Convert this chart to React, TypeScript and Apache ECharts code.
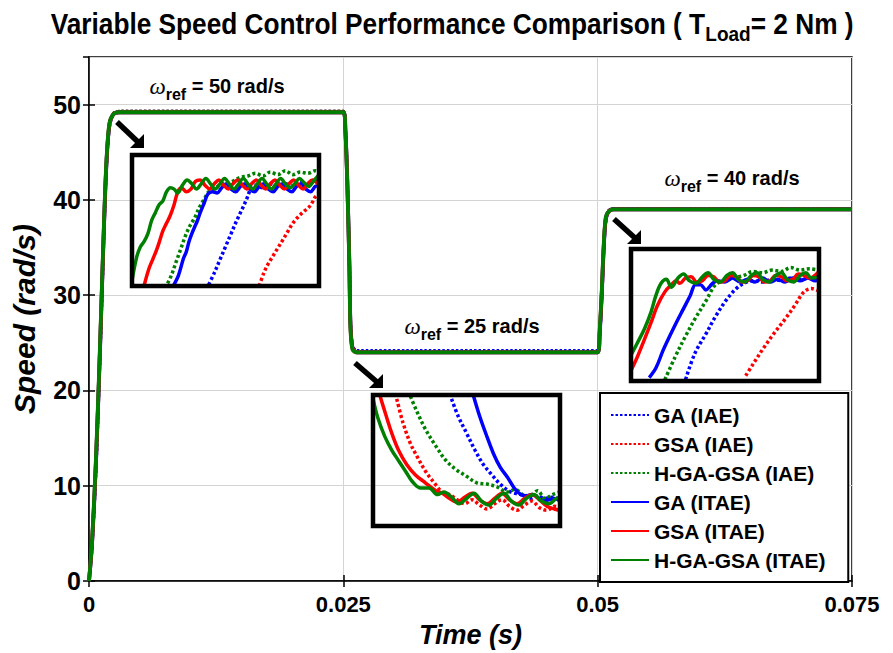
import React, { useEffect, useRef } from "react";
import * as echarts from "echarts";

// ---------- Main chart data (time [s], speed [rad/s]) ----------
const seriesNames = ["GA (IAE)", "GSA (IAE)", "H-GA-GSA (IAE)", "GA (ITAE)", "GSA (ITAE)", "H-GA-GSA (ITAE)"];
const seriesColors = ["#0000FF", "#FF0000", "#008000", "#0000FF", "#FF0000", "#008000"];
const xTicks = [0, 0.025, 0.05, 0.075];
const yTicks = [0, 10, 20, 30, 40, 50];

const mainGA_IAE = [[0, 0], [0.0003, 3.6], [0.0007, 12], [0.0011, 24], [0.0014, 34], [0.0017, 43], [0.002, 47.5], [0.0024, 49], [0.003, 49.3], [0.025, 49.3], [0.0252, 47.6], [0.0254, 42], [0.0256, 33.5], [0.0257, 27.5], [0.0259, 24.8], [0.0263, 24.2], [0.05, 24.2], [0.0502, 25.6], [0.0504, 29.5], [0.0506, 34.5], [0.0508, 37.7], [0.0511, 38.9], [0.0516, 39.1], [0.075, 39.1]];
const mainGSA_IAE = [[0, 0], [0.0003, 3.8], [0.0007, 12.5], [0.0011, 24.5], [0.0014, 34.5], [0.0017, 43.2], [0.002, 47.6], [0.0024, 49], [0.003, 49.3], [0.025, 49.3], [0.0252, 47.5], [0.0254, 41.8], [0.0256, 33.2], [0.0257, 27.2], [0.0259, 24.7], [0.0263, 24.1], [0.05, 24.1], [0.0502, 25.8], [0.0504, 29.8], [0.0506, 34.8], [0.0508, 37.8], [0.0511, 38.9], [0.0516, 39.1], [0.075, 39.1]];
const mainHGG_IAE = [[0, 0], [0.0003, 3.9], [0.0007, 12.8], [0.0011, 24.8], [0.0014, 34.8], [0.0017, 43.4], [0.002, 47.7], [0.0024, 49.1], [0.003, 49.3], [0.025, 49.3], [0.0252, 47.4], [0.0254, 41.6], [0.0256, 33], [0.0257, 27], [0.0259, 24.6], [0.0263, 24.1], [0.05, 24.1], [0.0502, 26], [0.0504, 30], [0.0506, 35], [0.0508, 38], [0.0511, 38.9], [0.0516, 39.1], [0.075, 39.1]];
const mainGA_ITAE = [[0, 0], [0.0003, 3.9], [0.0007, 12.8], [0.0011, 24.8], [0.0014, 34.9], [0.0017, 43.5], [0.002, 47.8], [0.0024, 49], [0.003, 49.2], [0.025, 49.2], [0.0252, 47.4], [0.0254, 41.6], [0.0256, 33], [0.0257, 27], [0.0259, 24.5], [0.0263, 24], [0.05, 24], [0.0502, 26], [0.0504, 30], [0.0506, 35], [0.0508, 38], [0.0511, 38.8], [0.0516, 39], [0.075, 39]];
const mainGSA_ITAE = [[0, 0], [0.0003, 4], [0.0007, 13], [0.0011, 25], [0.0014, 35], [0.0017, 43.6], [0.002, 47.9], [0.0024, 49], [0.003, 49.2], [0.025, 49.2], [0.0252, 47.3], [0.0254, 41.5], [0.0256, 32.8], [0.0257, 26.8], [0.0259, 24.4], [0.0263, 24], [0.05, 24], [0.0502, 26.2], [0.0504, 30.2], [0.0506, 35.2], [0.0508, 38.1], [0.0511, 38.8], [0.0516, 39], [0.075, 39]];
const mainHGG_ITAE = [[0, 0], [0.0003, 4.2], [0.0007, 13.3], [0.0011, 25.3], [0.0014, 35.3], [0.0017, 43.8], [0.002, 48], [0.0024, 49], [0.003, 49.2], [0.025, 49.2], [0.0252, 47.2], [0.0254, 41.3], [0.0256, 32.6], [0.0257, 26.6], [0.0259, 24.3], [0.0263, 24], [0.05, 24], [0.0502, 26.4], [0.0504, 30.4], [0.0506, 35.4], [0.0508, 38.2], [0.0511, 38.8], [0.0516, 39], [0.075, 39]];

// ---------- Inset 1 (zoom of first rise, local units 0..100) ----------
const in1GA_IAE = [[41, 1], [44, 10], [47, 20], [50, 30], [53, 40], [56, 50], [59, 59], [61.5, 67], [63.5, 74], [66, 77], [70, 75], [74, 78], [78, 76], [82, 78], [86, 76], [90, 79], [94, 77], [98, 80], [100, 79]];
const in1GSA_IAE = [[68, 0], [70.5, 10], [72.5, 16], [75, 22], [78, 29], [81, 36], [83.5, 42], [86, 48], [89, 53], [92, 57], [94.5, 60], [96.5, 64], [98, 68], [100, 71]];
const in1HGG_IAE = [[19, 2], [21, 8], [23.5, 18], [26, 28], [28.5, 38], [31, 46], [33.5, 52], [36, 60], [38.5, 66], [41, 72], [44, 74], [47, 77], [50, 78], [54, 80], [58, 83], [62, 84], [66, 86], [70, 84], [74, 87], [78, 85], [82, 88], [86, 85], [90, 87], [94, 86], [98, 88], [100, 87]];
const in1GA_ITAE = [[22, 0], [24.8, 8], [27.5, 21], [29, 26], [30.5, 34], [32, 40], [33.5, 45], [35, 50], [36.5, 56], [38.5, 63], [40.5, 70], [43, 72], [45.5, 71], [48, 75], [50.5, 78], [53, 74], [55.5, 72], [58, 76], [60.5, 78], [63, 74], [65.5, 72], [68, 76], [70.5, 78], [73, 74], [75.5, 72], [78, 76], [80.5, 78], [83, 74], [85.5, 72], [88, 76], [90.5, 78], [93, 74], [95.5, 72], [98, 76], [100, 77]];
const in1GSA_ITAE = [[6.4, 0], [9, 13], [11, 20], [13, 27], [14.7, 34], [16.5, 42], [18.5, 48], [20.5, 54], [22.5, 62], [24.5, 72], [26.5, 75], [29, 72], [31.5, 74], [34, 80], [36.5, 81], [39, 77], [41.5, 74], [44, 78], [46.5, 81], [49, 77], [51.5, 74], [54, 78], [56.5, 81], [59, 77], [61.5, 74], [64, 78], [66.5, 81], [69, 77], [71.5, 74], [74, 78], [76.5, 81], [79, 77], [81.5, 74], [84, 78], [86.5, 81], [89, 77], [91.5, 74], [94, 78], [96.5, 81], [100, 77]];
const in1HGG_ITAE = [[0, 4], [2.5, 22], [4.5, 30], [6.5, 34], [8.5, 40], [10.5, 50], [12.5, 56], [14.5, 62], [16.5, 65], [18.5, 72], [20.5, 75], [22.5, 74], [24.5, 71], [27, 77], [29.5, 81], [32, 78], [34.5, 74], [37, 78], [39.5, 82], [42, 78], [44.5, 74], [47, 78], [49.5, 82], [52, 78], [54.5, 74], [57, 78], [59.5, 82], [62, 78], [64.5, 74], [67, 78], [69.5, 82], [72, 78], [74.5, 74], [77, 78], [79.5, 82], [82, 78], [84.5, 75], [87, 78], [89.5, 82], [92, 79], [94.5, 76], [97, 80], [100, 85]];

// ---------- Inset 2 (zoom of the fall) ----------
const in2GA_IAE = [[42, 97], [45.5, 84], [50, 71], [54.5, 58], [59, 47], [63.6, 39], [68, 32], [73.6, 26], [79, 24], [84, 21], [88, 23], [92, 21], [96, 22], [100, 20]];
const in2GSA_IAE = [[12.7, 97], [16, 79], [20, 63], [23.6, 53], [28, 42], [32.7, 33], [37, 26], [41, 24], [45, 20], [49, 17], [53, 20], [57, 16], [61, 13], [65, 17], [69, 20], [73, 15], [77, 12], [81, 16], [85, 19], [89, 14], [93, 12], [97, 15], [100, 14]];
const in2HGG_IAE = [[20, 99], [23.6, 87], [28, 74], [33.6, 61], [39, 50], [44.5, 43], [50, 38], [55.5, 33], [61, 32], [66, 30], [72, 26], [76, 28], [80, 24], [84, 23], [88, 27], [92, 21], [96, 24], [100, 26]];
const in2GA_ITAE = [[53.6, 100], [57, 84], [61, 68], [64.5, 55], [68, 45], [72, 37], [75.5, 29], [79, 24], [82, 23], [85, 24], [88, 22], [91, 19], [94, 20], [97, 21], [100, 19]];
const in2GSA_ITAE = [[3.6, 100], [6.4, 87], [10, 71], [13.6, 58], [18, 47], [22.7, 39], [28, 33], [33.6, 27], [37, 25], [41, 21], [45, 18], [49, 22], [53, 25], [57, 20], [61, 17], [65, 21], [69, 25], [73, 20], [77, 17], [81, 21], [85, 24], [89, 20], [93, 15], [97, 13], [100, 12]];
const in2HGG_ITAE = [[0, 97], [2.7, 82], [6.4, 68], [10, 58], [13.6, 50], [17.3, 42], [21, 34], [25.5, 29], [30, 29], [34.5, 24], [38, 26], [42, 22], [46, 17], [50, 21], [54, 25], [58, 19], [62, 16], [66, 21], [70, 25], [74, 19], [78, 16], [82, 21], [86, 24], [90, 19], [94, 17], [98, 21], [100, 22]];

// ---------- Inset 3 (zoom of the second rise) ----------
const in3GA_IAE = [[29, 1], [34, 21], [40, 36], [45, 49], [51, 62], [56, 70], [60, 74], [65, 76], [70, 75], [75, 77], [80, 76], [85, 78], [90, 77], [95, 78], [100, 77]];
const in3GSA_IAE = [[61, 4], [65, 13], [71, 26], [76, 36], [82, 47], [87, 57], [92, 67.5], [96, 70], [100, 68]];
const in3HGG_IAE = [[18, 1], [23.4, 18], [29, 34], [34, 47], [40, 61], [45, 73], [50, 76], [55, 78], [60, 80], [65, 83], [70, 82], [75, 84], [80, 83], [85, 86], [90, 84], [95, 85], [100, 84]];
const in3GA_ITAE = [[9.7, 2.6], [13.3, 10], [17, 23], [20.6, 34], [24, 44], [28, 55], [31.6, 65], [34.3, 73], [37, 73], [39.8, 69], [43.4, 74], [46, 76], [50, 75], [54, 78], [58, 75], [62, 77], [66, 75], [70, 78], [74, 75], [78, 77], [82, 75], [86, 78], [90, 76], [94, 78], [98, 76], [100, 77]];
const in3GSA_ITAE = [[0, 8], [3.3, 18], [7, 31], [10.6, 44], [14, 57], [18, 67.5], [21.5, 73], [24, 76], [26, 74], [29, 78], [32, 79], [35, 75], [38, 76], [41, 80], [44, 79], [47, 75], [50, 76], [53, 80], [56, 79], [59, 75], [62, 76], [65, 80], [68, 79], [71, 75], [74, 76], [77, 80], [80, 79], [83, 76], [86, 77], [89, 81], [92, 80], [95, 78], [100, 83]];
const in3HGG_ITAE = [[0, 19.5], [3.3, 28.6], [7, 39], [10.6, 52], [13.3, 65], [16, 74], [18.8, 77], [21.5, 71], [25, 78], [28, 81], [31, 76], [34.5, 74], [38, 79], [41, 82], [44, 77], [47.5, 75], [51, 80], [54, 82], [57, 77], [60.5, 75], [64, 80], [67, 82], [70, 77], [73.5, 75], [77, 80], [80, 82], [83, 77], [86.5, 75], [90, 80], [93, 82], [96, 78], [100, 79]];

const mainData = [mainGA_IAE, mainGSA_IAE, mainHGG_IAE, mainGA_ITAE, mainGSA_ITAE, mainHGG_ITAE];
const inset1Data = [in1GA_IAE, in1GSA_IAE, in1HGG_IAE, in1GA_ITAE, in1GSA_ITAE, in1HGG_ITAE];
const inset2Data = [in2GA_IAE, in2GSA_IAE, in2HGG_IAE, in2GA_ITAE, in2GSA_ITAE, in2HGG_ITAE];
const inset3Data = [in3GA_IAE, in3GSA_IAE, in3HGG_IAE, in3GA_ITAE, in3GSA_ITAE, in3HGG_ITAE];

const annotations = [
  { speed: "50", x: 217, y: 86 },
  { speed: "25", x: 472, y: 326 },
  { speed: "40", x: 732, y: 178 },
];

const SANS = "'Liberation Sans', Arial, Helvetica, sans-serif";

function arrow(x1: number, y1: number, tipX: number, tipY: number) {
  return [
    { type: "line", shape: { x1, y1, x2: tipX - 6, y2: tipY - 6 }, style: { stroke: "#000", lineWidth: 5.5 }, z: 50 },
    { type: "polygon", shape: { points: [[tipX, tipY], [tipX - 14, tipY], [tipX, tipY - 14]] }, style: { fill: "#000" }, z: 50 },
  ];
}

export default function App() {
  const ref = useRef<HTMLDivElement>(null);
  useEffect(() => {
    document.body.style.margin = "0";
    const chart = echarts.init(ref.current!, null, { renderer: "svg" });

    const isDotted = (i: number) => i < 3;
    const mainSeries = mainData.map((d, i) => ({
      name: seriesNames[i],
      type: "line",
      xAxisIndex: 0,
      yAxisIndex: 0,
      data: d,
      symbol: "none",
      smooth: 0.3,
      z: 5 + i,
      lineStyle: { color: seriesColors[i], width: isDotted(i) ? 3 : 3.8, type: isDotted(i) ? [2.5, 2] : "solid" },
      itemStyle: { color: seriesColors[i] },
    }));
    const insetSeries = [inset1Data, inset2Data, inset3Data].flatMap((set, k) =>
      set.map((d, i) => ({
        name: seriesNames[i] + " inset" + (k + 1),
        type: "line",
        xAxisIndex: 2 + k,
        yAxisIndex: 2 + k,
        data: d,
        symbol: "none",
        smooth: 0.35,
        z: 5 + i,
        lineStyle: { color: seriesColors[i], width: 3.5, type: isDotted(i) ? [3, 2.5] : "solid" },
      }))
    );

    const insetGrids = [
      { left: 132, top: 155, width: 187, height: 131 },
      { left: 373, top: 395, width: 187, height: 131 },
      { left: 631, top: 249, width: 188, height: 132 },
    ].map((g) => ({ ...g, show: true, borderColor: "#000", borderWidth: 4.5, backgroundColor: "transparent", z: 20 }));

    const insetX = [1, 2, 3].map((gi) => ({ type: "value", gridIndex: gi, min: 0, max: 100, show: false }));
    const insetY = [1, 2, 3].map((gi) => ({ type: "value", gridIndex: gi, min: 0, max: 100, show: false }));

    const graphic: any[] = [
      {
        type: "text",
        x: 452,
        y: 24,
        scaleX: 0.905,
        style: {
          text: "{b|Variable Speed Control Performance Comparison ( T}{s|Load}{b|= 2 Nm )}",
          align: "center",
          verticalAlign: "middle",
          fill: "#000",
          rich: {
            b: { fontSize: 29, fontWeight: "bold", fontFamily: SANS, lineHeight: 40, verticalAlign: "middle", fill: "#000" },
            s: { fontSize: 21, fontWeight: "bold", fontFamily: SANS, verticalAlign: "bottom", fill: "#000" },
          },
        },
        z: 60,
      },
      ...annotations.map((a) => ({
        type: "text",
        x: a.x,
        y: a.y,
        style: {
          text: "{w|ω}{s|ref}{b| = " + a.speed + " rad/s}",
          align: "center",
          verticalAlign: "middle",
          rich: {
            w: { fontSize: 23, fontStyle: "italic", fontFamily: "'Liberation Serif', 'Times New Roman', serif", lineHeight: 32, verticalAlign: "middle", fill: "#000" },
            s: { fontSize: 16, fontWeight: "bold", fontFamily: SANS, verticalAlign: "bottom", fill: "#000" },
            b: { fontSize: 20, fontWeight: "bold", fontFamily: SANS, verticalAlign: "middle", fill: "#000" },
          },
        },
        z: 60,
      })),
      ...arrow(117, 122, 144, 148),
      ...arrow(355, 363, 383, 388),
      ...arrow(614, 219, 641, 244),
    ];

    chart.setOption({
      animation: false,
      backgroundColor: "#fff",
      grid: [{ left: 89, right: 41, top: 57, bottom: 72, show: true, borderColor: "#000", borderWidth: 1.5, z: 0 }, ...insetGrids],
      xAxis: [
        {
          type: "value",
          gridIndex: 0,
          min: xTicks[0],
          max: xTicks[xTicks.length - 1],
          interval: 0.025,
          axisLine: { show: true, lineStyle: { color: "#000", width: 1.5 } },
          axisTick: { show: true, inside: true, length: 6, lineStyle: { color: "#000", width: 1.5 } },
          axisLabel: {
            margin: 12,
            color: "#000",
            fontSize: 22,
            fontWeight: "bold",
            fontFamily: SANS,
            formatter: (v: number) => (v === 0 ? "0" : String(+v.toFixed(3))),
          },
          splitLine: { show: true, lineStyle: { color: "#d4d4d4", width: 1 } },
          name: "Time (s)",
          nameLocation: "middle",
          nameGap: 40,
          nameTextStyle: { color: "#000", fontSize: 27, fontWeight: "bold", fontStyle: "italic", fontFamily: SANS },
        },
        {
          type: "value",
          gridIndex: 0,
          position: "top",
          min: xTicks[0],
          max: xTicks[xTicks.length - 1],
          interval: 0.025,
          axisLine: { show: false },
          axisTick: { show: true, inside: true, length: 6, lineStyle: { color: "#000", width: 1.5 } },
          axisLabel: { show: false },
          splitLine: { show: false },
        },
        ...insetX,
      ],
      yAxis: [
        {
          type: "value",
          gridIndex: 0,
          min: 0,
          max: 55,
          interval: 10,
          axisLine: { show: true, lineStyle: { color: "#000", width: 1.5 } },
          axisTick: { show: true, inside: true, length: 6, lineStyle: { color: "#000", width: 1.5 } },
          axisLabel: {
            margin: 8,
            color: "#000",
            fontSize: 25,
            fontWeight: "bold",
            fontFamily: SANS,
            showMaxLabel: false,
            formatter: (v: number) => (yTicks.includes(v) ? String(v) : ""),
          },
          splitLine: { show: true, lineStyle: { color: "#d4d4d4", width: 1 } },
          name: "Speed (rad/s)",
          nameLocation: "middle",
          nameGap: 50,
          nameTextStyle: { color: "#000", fontSize: 30, fontWeight: "bold", fontStyle: "italic", fontFamily: SANS },
        },
        {
          type: "value",
          gridIndex: 0,
          position: "right",
          min: 0,
          max: 55,
          interval: 10,
          axisLine: { show: false },
          axisTick: { show: true, inside: true, length: 6, lineStyle: { color: "#000", width: 1.5 } },
          axisLabel: { show: false },
          splitLine: { show: false },
        },
        ...insetY,
      ],
      legend: {
        data: seriesNames,
        orient: "vertical",
        left: 600,
        top: 393,
        backgroundColor: "#fff",
        borderColor: "#000",
        borderWidth: 2,
        borderRadius: 0,
        padding: [11, 22, 11, 10],
        itemWidth: 38,
        itemHeight: 14,
        itemGap: 7,
        itemTextGap: 5,
        itemStyle: { opacity: 0 },
        textStyle: { fontSize: 21, fontWeight: "bold", fontFamily: SANS, color: "#000", lineHeight: 22 },
        z: 40,
      },
      series: [...mainSeries, ...insetSeries],
      graphic,
    });
    return () => chart.dispose();
  }, []);
  return <div ref={ref} style={{ position: "fixed", left: 0, top: 0, width: 893, height: 653, background: "#fff" }} />;
}
